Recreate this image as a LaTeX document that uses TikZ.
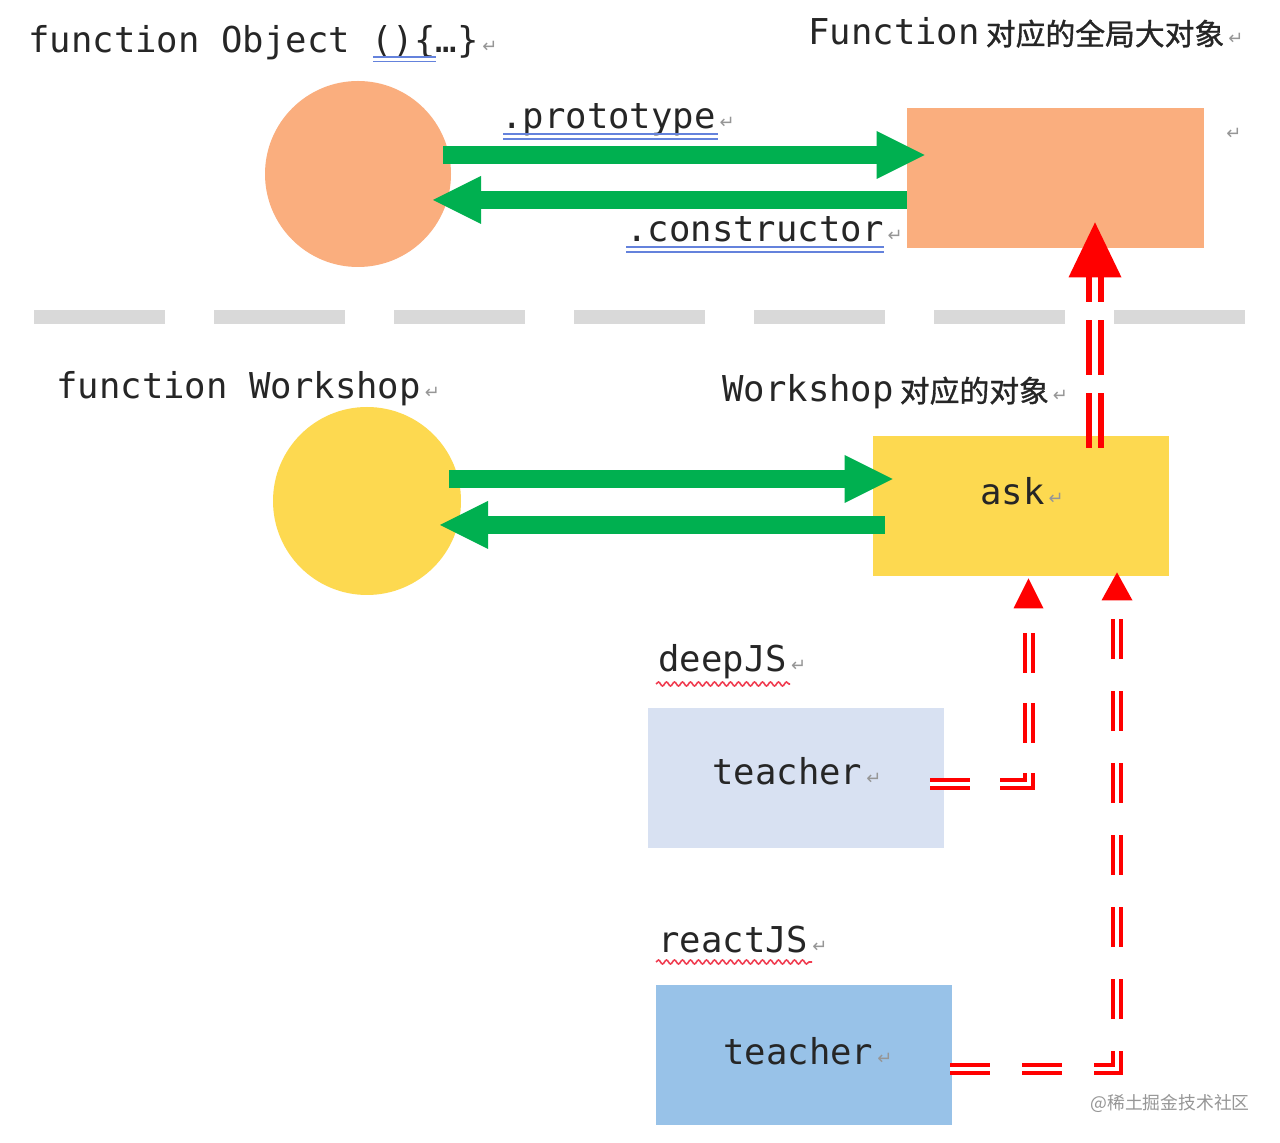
\documentclass[tikz,border=0pt]{standalone}
\usepackage{fontspec}
\setmonofont{DejaVu Sans Mono}
\newfontfamily\cjkfont[FakeBold=1.2]{Noto Sans CJK SC}
\newfontfamily\wmfont{Noto Sans CJK SC}
\newfontfamily\symfont{DejaVu Sans}
\usetikzlibrary{arrows.meta,calc,decorations.pathmorphing}
\definecolor{peach}{RGB}{250,174,126}
\definecolor{gold}{RGB}{253,217,80}
\definecolor{grn}{RGB}{0,176,80}
\definecolor{lightblue}{RGB}{216,225,242}
\definecolor{midblue}{RGB}{152,194,232}
\definecolor{sepgray}{RGB}{217,217,217}
\definecolor{ink}{RGB}{38,38,38}
\definecolor{retgray}{RGB}{150,150,150}
\definecolor{ulblue}{RGB}{100,130,220}
\definecolor{wavyred}{RGB}{240,60,80}
\newcommand\codefs{\ttfamily\fontsize{17.8}{20}\selectfont}
\newcommand\cjkfs{\cjkfont\fontsize{14.9}{17}\selectfont}
\newcommand\retmark{\hspace{2pt}{\symfont\fontsize{9}{9}\selectfont\textcolor{retgray}{↵}}}
\begin{document}
\begin{tikzpicture}[x=0.5pt,y=-0.5pt,
  txt/.style={inner sep=0pt, anchor=base west, text=ink, font=\codefs},
  circ/.style={circle, inner sep=0pt, draw=none},
  box/.style={rectangle, inner sep=0pt, draw=none},
  garrow/.style={draw=grn, line width=9pt, -{Triangle[length=24pt,width=24pt,line width=0pt]}},
  redA/.style={draw=red, line width=3pt, dash pattern=on 27.5pt off 9pt},
  redB/.style={draw=red, line width=2pt, double=white, double distance=2pt, dash pattern=on 20pt off 15pt},
  redC/.style={draw=red, line width=2pt, double=white, double distance=2pt, dash pattern=on 20pt off 16pt},
  dblul/.style={draw=ulblue, line width=0.8pt},
  wavy/.style={draw=wavyred, line width=0.8pt, decorate, decoration={snake, amplitude=1pt, segment length=4pt}},
  sep/.style={draw=sepgray, line width=7pt, dash pattern=on 65.5pt off 24.5pt}
]
\useasboundingbox (0,0) rectangle (1280,1143);
\fill[white] (0,0) rectangle (1280,1143);

% headings
\node[txt] (hobj) at (28,53) {function Object ()\{…\}\retmark};
\node[txt] (hfun) at (808,45) {Function\hspace{3pt}{\cjkfs 对应的全局大对象}\retmark};
\node[txt] (lone) at (1222,140) {\retmark};

% top row
\node[circ, fill=peach, minimum size=93pt] (c1) at (358,174) {};
\node[box, fill=peach, minimum width=148.5pt, minimum height=70pt] (r1) at (1055.5,178) {};
\draw[garrow] ($(c1.center)+(85,-19)$) -- ($(r1.west)+(18,-23)$);
\draw[garrow] ($(r1.west)+(0,22)$) -- ($(c1.center)+(75,26)$);
\node[txt] (proto) at (501,129) {.prototype\retmark};
\node[txt] (cons) at (626,242) {.constructor\retmark};

% underlines
\draw[dblul] (373,57) -- (436,57);
\draw[dblul] (373,61.5) -- (436,61.5);
\draw[dblul] (503,134) -- (718,134);
\draw[dblul] (503,139) -- (718,139);
\draw[dblul] (626,247) -- (884,247);
\draw[dblul] (626,252) -- (884,252);

% separator
\draw[sep] (34,317) -- (1245,317);

% middle row
\node[txt] (hws) at (56,399) {function Workshop\retmark};
\node[txt] (hwso) at (722,402) {Workshop\hspace{3pt}{\cjkfs 对应的对象}\retmark};
\node[circ, fill=gold, minimum size=94pt] (c2) at (367,501) {};
\node[box, fill=gold, minimum width=148pt, minimum height=70pt] (r2) at (1021,506) {};
\node[txt] (ask) at (980,505) {ask\retmark};
\draw[garrow] ($(c2.center)+(82,-22)$) -- ($(r2.west)+(20,-27)$);
\draw[garrow] ($(r2.west)+(12,19)$) -- ($(c2.center)+(73,24)$);

% bottom boxes
\node[txt] (ldeep) at (658,672) {deepJS\retmark};
\node[box, fill=lightblue, minimum width=148pt, minimum height=70pt] (t1) at (796,778) {};
\node[txt] (tt1) at (712,785) {teacher\retmark};
\node[txt] (lreact) at (658,952) {reactJS\retmark};
\node[box, fill=midblue, minimum width=148pt, minimum height=70pt] (t2) at (804,1055) {};
\node[txt] (tt2) at (723,1064) {teacher\retmark};
\draw[wavy] (656,684) -- (790,684);
\draw[wavy] (656,962) -- (812,962);

% red connector: Workshop object -> Function object
\coordinate (a1s) at ($(r2.north)+(74,12)$);
\coordinate (a1b) at ($(r1.south)+(39.5,29)$);
\coordinate (a1t) at ($(r1.south)+(39.5,-26)$);
\draw[redA] ([xshift=-3pt]a1s) -- ([xshift=-3pt]a1b);
\draw[redA] ([xshift=3pt]a1s) -- ([xshift=3pt]a1b);
\fill[red] (a1t) -- ([xshift=-13.25pt]a1b) -- ([xshift=13.25pt]a1b) -- cycle;

% red connector: deepJS teacher -> ask
\coordinate (a2s) at ($(t1.east)+(-14,6.5)$);
\coordinate (a2b) at ($(r2.south)+(7.5,32)$);
\coordinate (a2t) at ($(r2.south)+(7.5,2)$);
\draw[redB] (a2s) -| (a2b);
\fill[red] (a2t) -- ([xshift=-7.5pt]a2b) -- ([xshift=7.5pt]a2b) -- cycle;

% red connector: reactJS teacher -> ask
\coordinate (a3s) at ($(t2.east)+(-2,13.5)$);
\coordinate (a3b) at ($(r2.south)+(96,24)$);
\coordinate (a3t) at ($(r2.south)+(96,-4)$);
\draw[redC] (a3s) -| (a3b);
\fill[red] (a3t) -- ([xshift=-7.75pt]a3b) -- ([xshift=7.75pt]a3b) -- cycle;

% watermark
\node[inner sep=0pt, anchor=west, text=retgray, font=\wmfont\fontsize{8.9}{10}\selectfont] (wm) at (1090,1103) {@稀土掘金技术社区};
\end{tikzpicture}
\end{document}
